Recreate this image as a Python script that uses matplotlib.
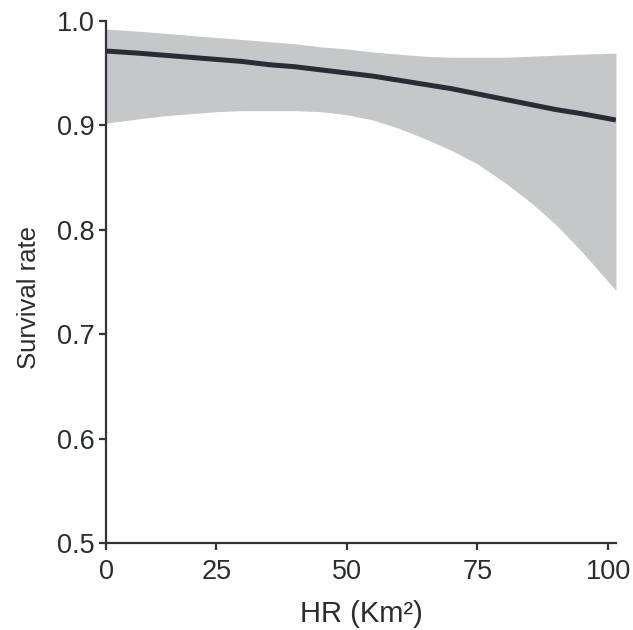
import numpy as np
import matplotlib.pyplot as plt

plt.rcParams['font.family'] = ['Liberation Sans', 'DejaVu Sans']

# Valeurs (HR en km², taux de survie)
hr = [3.9, 10, 15, 20, 25, 30, 35, 40, 45, 50, 55, 60, 65, 70, 75, 80, 85, 90, 95, 101.5]
survie = [0.971, 0.969, 0.967, 0.965, 0.963, 0.961, 0.958, 0.956, 0.953, 0.950,
          0.947, 0.943, 0.939, 0.935, 0.930, 0.925, 0.920, 0.915, 0.911, 0.905]
ic_haut = [0.992, 0.990, 0.988, 0.986, 0.984, 0.982, 0.980, 0.978, 0.975, 0.973,
           0.970, 0.968, 0.966, 0.965, 0.965, 0.965, 0.966, 0.967, 0.968, 0.969]
ic_bas = [0.902, 0.906, 0.909, 0.911, 0.913, 0.914, 0.914, 0.914, 0.913, 0.910,
          0.905, 0.897, 0.887, 0.876, 0.863, 0.846, 0.827, 0.805, 0.779, 0.742]

xticks = [hr[0], 25, 50, 75, 100]
xtick_labels = ['0', '25', '50', '75', '100']
yticks = [0.5, 0.6, 0.7, 0.8, 0.9, 1.0]

fig = plt.figure(figsize=(6.33, 6.30), dpi=100)
ax = fig.add_axes([0.1675, 0.1376, 0.8055, 0.8295])

ax.fill_between(hr, ic_bas, ic_haut, color='#c6c7c9', linewidth=0)
ax.plot(hr, survie, color='#2a2c33', linewidth=3.6, solid_capstyle='butt')

ax.set_xlim(hr[0], hr[-1])
ax.set_ylim(0.5, 1.0)
ax.set_xticks(xticks)
ax.set_xticklabels(xtick_labels)
ax.set_yticks(yticks)
ax.set_yticklabels([f'{v:.1f}' for v in yticks])

for side in ['top', 'right']:
    ax.spines[side].set_visible(False)
for side in ['left', 'bottom']:
    ax.spines[side].set_linewidth(1.6)
    ax.spines[side].set_color('#33353a')
ax.tick_params(length=5, width=1.6, color='#33353a', labelsize=19.5,
               labelcolor='#2a2c33')
ax.tick_params(axis='x', pad=6)
ax.tick_params(axis='y', pad=3)

ax.set_xlabel('HR (Km²)', fontsize=21, color='#2a2c33', labelpad=11)
ax.set_ylabel('Survival rate', fontsize=18.5, color='#2a2c33')
ax.yaxis.set_label_coords(-0.128, 0.47)

fig.savefig('out.png', dpi=100)
